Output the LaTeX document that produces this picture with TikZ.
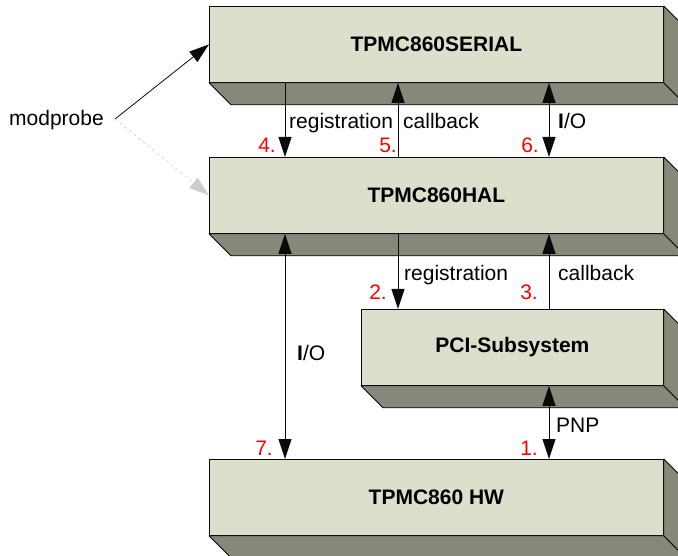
\documentclass[tikz,border=0pt]{standalone}
\usepackage{fontspec}
\setmainfont{Liberation Sans}
\usetikzlibrary{arrows.meta,calc}
\definecolor{facec}{RGB}{220,223,203}
\definecolor{sidec}{RGB}{134,136,122}
\definecolor{linec}{RGB}{10,10,10}
\begin{document}
\begin{tikzpicture}[x=1pt,y=-1pt,
  font=\fontsize{21}{25}\selectfont,
  blk/.style={draw=linec,line width=0.8pt,fill=facec,minimum height=76pt,inner sep=0pt,anchor=north west,font=\fontsize{21}{25}\selectfont\bfseries},
  side/.style={draw=linec,line width=0.8pt,fill=sidec,line join=round},
  arr/.style={draw=linec,line width=0.8pt,-{Triangle[length=20pt,width=13pt]}},
  darr/.style={draw=linec,line width=0.8pt,{Triangle[length=20pt,width=13pt]}-{Triangle[length=20pt,width=13pt]}},
  num/.style={text=red,inner sep=0pt,anchor=base east},
  lbl/.style={inner sep=0pt,anchor=base west}]
\useasboundingbox (0,0) rectangle (678,556);
\newcommand{\extr}[1]{%
  \filldraw[side] (#1.south west) -- (#1.south east) -- ($(#1.south east)+(22pt,-22pt)$) -- ($(#1.south west)+(22pt,-22pt)$) -- cycle;
  \filldraw[side] (#1.north east) -- ($(#1.north east)+(22pt,-22pt)$) -- ($(#1.south east)+(22pt,-22pt)$) -- (#1.south east) -- cycle;}
% boxes
\node[blk,minimum width=454pt] (serial) at (209,6) {TPMC860SERIAL};
\node[blk,minimum width=454pt] (hal) at (209,157) {TPMC860HAL};
\node[blk,minimum width=302pt] (pci) at (361,309) {PCI-Subsystem};
\node[blk,minimum width=454pt] (hw) at (209,459) {TPMC860 HW};
\extr{serial}
\extr{hal}
\extr{pci}
\extr{hw}
% modprobe
\node[lbl] (mod) at (9,126) {modprobe};
\coordinate (mp) at (115,119);
\draw[arr] (mp) -- (serial.west);
\draw[line width=0.6pt,draw=black!20,dashed,-{Triangle[length=20pt,width=13pt,fill=black!20]}] (mp) -- (hal.west);
% SERIAL <-> HAL
\draw[arr] ([xshift=76pt]serial.south west) -- ([xshift=76pt]hal.north west);
\draw[arr] ([xshift=189pt]hal.north west) -- ([xshift=189pt]serial.south west);
\draw[darr] ([xshift=340pt]serial.south west) -- ([xshift=340pt]hal.north west);
\node[lbl] (l4) at (289,129) {registration};
\node[lbl] (l5) at (403,129) {callback};
\node[lbl] (l6) at (558,129) {\textbf{I}/O};
\node[num] (n4) at (276,153) {4.};
\node[num] (n5) at (397,153) {5.};
\node[num] (n6) at (539,153) {6.};
% HAL <-> PCI
\draw[arr] ([xshift=189pt]hal.south west) -- ([xshift=37pt]pci.north west);
\draw[arr] ([xshift=188pt]pci.north west) -- ([xshift=340pt]hal.south west);
\node[lbl] (l2) at (404,281) {registration};
\node[lbl] (l3) at (558,281) {callback};
\node[num] (n2) at (387,300) {2.};
\node[num] (n3) at (538,300) {3.};
% HAL <-> HW
\draw[darr] ([xshift=76pt]hal.south west) -- ([xshift=76pt]hw.north west);
\node[lbl] (l7) at (297,360) {\textbf{I}/O};
\node[num] (n7) at (273,455) {7.};
% PCI <-> HW
\draw[darr] ([xshift=188pt]pci.south west) -- ([xshift=340pt]hw.north west);
\node[lbl] (l1) at (556,432) {PNP};
\node[num] (n1) at (538,455) {1.};
\end{tikzpicture}
\end{document}
